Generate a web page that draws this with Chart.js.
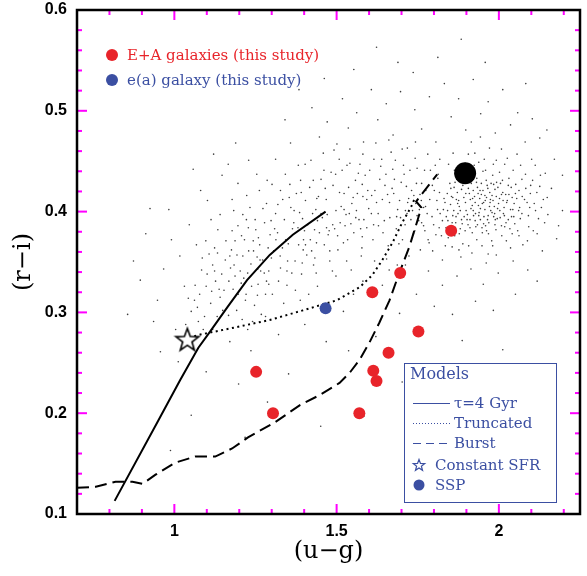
<!DOCTYPE html>
<html>
<head>
<meta charset="utf-8">
<script src="https://cdn.jsdelivr.net/npm/chart.js@4/dist/chart.umd.min.js"></script>
<style>
html,body{margin:0;padding:0;background:#fff;}
#wrap{width:587px;height:576px;position:relative;}
</style>
</head>
<body>
<div id="wrap"><canvas id="c" width="587" height="576"></canvas></div>
<script>
// ---------- data (u-g, r-i) ----------
const eaU = [1.853, 1.696, 1.610, 1.752, 1.660, 1.613, 1.623, 1.570, 1.252, 1.304];
const eaR = [0.381, 0.339, 0.320, 0.281, 0.260, 0.242, 0.232, 0.200, 0.241, 0.200];
const eaEmU = [1.466];
const eaEmR = [0.304];
const sspU = [1.896];
const sspR = [0.438];
const csfrU = [1.040];
const csfrR = [0.273];
const tauU = [0.816, 0.951, 1.018, 1.074, 1.110, 1.163, 1.224, 1.294, 1.365, 1.466];
const tauR = [0.113, 0.193, 0.233, 0.265, 0.281, 0.305, 0.332, 0.357, 0.377, 0.400];
const truncU = [1.045, 1.080, 1.193, 1.294, 1.396, 1.500, 1.571, 1.610, 1.641, 1.672, 1.702, 1.730, 1.742];
const truncR = [0.275, 0.278, 0.2855, 0.2925, 0.302, 0.312, 0.325, 0.337, 0.352, 0.369, 0.389, 0.405, 0.414];
const burstU = [0.700, 0.758, 0.819, 0.871, 0.902, 0.942, 1.003, 1.064, 1.126, 1.178, 1.227, 1.310, 1.387, 1.448, 1.509, 1.540, 1.571, 1.601, 1.632, 1.663, 1.693, 1.724, 1.748, 1.761, 1.745, 1.810];
const burstR = [0.126, 0.127, 0.132, 0.132, 0.130, 0.139, 0.151, 0.157, 0.157, 0.165, 0.176, 0.191, 0.208, 0.218, 0.230, 0.240, 0.253, 0.270, 0.290, 0.312, 0.339, 0.365, 0.390, 0.404, 0.410, 0.437];
// comparison galaxy sample (u-g, r-i), read approximately from the cloud
const sample = [
[1.912,0.412],[1.874,0.398],[1.951,0.421],[1.986,0.405],[1.843,0.391],[2.021,0.417],[1.905,0.387],[1.932,0.433],[1.967,0.396],[1.889,0.426],
[2.043,0.402],[1.858,0.414],[1.921,0.401],[1.976,0.428],[1.816,0.384],[1.943,0.392],[2.008,0.386],[1.897,0.409],[1.864,0.376],[1.958,0.411],
[2.062,0.421],[1.829,0.402],[1.915,0.428],[1.992,0.415],[1.881,0.383],[1.937,0.406],[2.031,0.433],[1.872,0.419],[1.948,0.384],[1.903,0.397],
[2.014,0.398],[1.851,0.407],[1.925,0.415],[1.969,0.389],[1.838,0.395],[2.087,0.409],[1.894,0.436],[1.981,0.436],[1.918,0.379],[1.957,0.402],
[1.865,0.429],[2.049,0.388],[1.809,0.411],[1.934,0.424],[1.999,0.408],[1.878,0.405],[1.946,0.417],[2.026,0.411],[1.885,0.392],[1.962,0.381],
[1.841,0.418],[1.909,0.418],[2.071,0.398],[1.927,0.391],[1.988,0.422],[1.856,0.389],[1.951,0.440],[2.005,0.428],[1.823,0.376],[1.899,0.401],
[1.939,0.399],[2.038,0.424],[1.868,0.395],[1.974,0.412],[1.913,0.434],[2.097,0.418],[1.848,0.381],[1.929,0.385],[2.016,0.404],[1.892,0.414],
[1.964,0.426],[1.834,0.409],[1.954,0.395],[2.055,0.413],[1.876,0.411],[1.918,0.406],[1.995,0.393],[1.861,0.401],[1.941,0.413],[2.029,0.392],
[1.906,0.423],[1.979,0.399],[1.852,0.423],[1.922,0.396],[2.012,0.419],[1.887,0.388],[1.971,0.405],[2.064,0.404],[1.896,0.381],[1.936,0.418],
[1.819,0.398],[1.984,0.427],[1.871,0.432],[1.949,0.408],[2.046,0.395],[1.911,0.392],[1.866,0.384],[2.002,0.413],[1.931,0.429],[1.959,0.386],
[1.782,0.372],[1.794,0.395],[1.801,0.421],[2.113,0.401],[2.126,0.425],[2.082,0.437],[1.955,0.452],[1.896,0.448],[2.018,0.447],[1.863,0.441],
[1.835,0.366],[1.907,0.366],[1.978,0.371],[2.041,0.378],[2.092,0.385],[1.812,0.433],[1.774,0.405],[1.768,0.386],[2.137,0.412],[2.104,0.431],
[1.926,0.458],[1.992,0.451],[1.845,0.447],[2.067,0.446],[1.877,0.362],[1.948,0.366],[2.023,0.371],[1.796,0.361],[2.151,0.397],[2.118,0.378],
[1.757,0.417],[1.748,0.396],[1.789,0.441],[2.056,0.457],[1.971,0.463],[1.915,0.469],[1.859,0.458],[1.826,0.352],[1.992,0.357],[2.074,0.367],
[2.162,0.423],[2.143,0.438],[1.737,0.378],[1.762,0.428],[2.008,0.462],[1.883,0.355],[1.961,0.349],[2.101,0.452],[1.818,0.452],[1.943,0.474],
[1.953,0.409],[2.017,0.396],[1.988,0.387],[2.041,0.414],[1.972,0.419],[2.066,0.393],[1.934,0.387],[2.003,0.401],[1.961,0.431],[2.079,0.412],
[1.921,0.421],[2.034,0.383],[1.997,0.424],[1.943,0.403],[2.052,0.427],[1.984,0.395],[2.024,0.409],[1.968,0.378],[2.091,0.396],[1.914,0.403],
[2.008,0.417],[1.946,0.428],[2.058,0.381],[1.979,0.416],[2.036,0.402],[1.927,0.409],[2.083,0.423],[1.965,0.392],[2.011,0.431],[1.991,0.382],
[1.938,0.396],[2.047,0.408],[1.975,0.401],[2.022,0.389],[1.957,0.416],[2.072,0.415],[1.902,0.392],[2.004,0.394],[1.982,0.411],[2.029,0.426],
[1.949,0.379],[2.061,0.401],[1.919,0.413],[1.993,0.429],[2.039,0.395],[1.966,0.423],[2.018,0.385],[1.942,0.421],[2.095,0.404],[1.987,0.398],
[1.873,0.408],[1.842,0.401],[1.885,0.422],[1.858,0.396],[1.831,0.413],[1.867,0.389],[1.893,0.395],[1.849,0.428],[1.878,0.378],[1.826,0.391],
[1.811,0.402],[1.854,0.415],[1.889,0.431],[1.837,0.384],[1.862,0.424],[1.898,0.418],[1.817,0.419],[1.844,0.374],[1.881,0.401],[1.869,0.412],
[1.799,0.387],[1.787,0.412],[1.806,0.377],[1.779,0.398],[1.795,0.426],[1.772,0.381],[1.813,0.437],[1.785,0.369],[1.761,0.411],[1.804,0.446],
[2.109,0.408],[2.122,0.393],[2.117,0.419],[2.131,0.404],[2.098,0.426],[2.141,0.389],[2.106,0.381],[2.128,0.436],[2.149,0.414],[2.112,0.446],
[1.959,0.441],[1.924,0.446],[2.002,0.439],[2.044,0.441],[1.881,0.444],[1.983,0.447],[2.026,0.453],[1.906,0.457],[2.071,0.432],[1.938,0.449],
[1.932,0.372],[1.981,0.366],[2.036,0.364],[1.889,0.368],[2.062,0.376],[1.856,0.365],[2.009,0.376],[1.917,0.359],[1.967,0.358],[2.088,0.371],
[1.953,0.388],[1.996,0.403],[2.013,0.411],[1.973,0.409],[1.928,0.398],[2.051,0.418],[1.911,0.384],[1.962,0.414],[2.031,0.417],[1.989,0.392],
[1.052,0.301],[1.078,0.318],[1.093,0.296],[1.064,0.327],[1.112,0.309],[1.127,0.331],[1.084,0.342],[1.141,0.315],[1.035,0.288],[1.118,0.347],
[1.098,0.326],[1.146,0.338],[1.071,0.305],[1.132,0.296],[1.157,0.352],[1.107,0.358],[1.043,0.314],[1.089,0.283],[1.153,0.322],[1.124,0.364],
[1.168,0.331],[1.184,0.347],[1.197,0.318],[1.211,0.356],[1.226,0.339],[1.243,0.371],[1.258,0.328],[1.272,0.352],[1.289,0.364],[1.176,0.362],
[1.192,0.302],[1.207,0.376],[1.219,0.312],[1.236,0.348],[1.251,0.382],[1.266,0.341],[1.281,0.318],[1.295,0.377],[1.173,0.344],[1.214,0.334],
[1.229,0.361],[1.247,0.307],[1.263,0.367],[1.278,0.389],[1.291,0.341],[1.187,0.371],[1.203,0.341],[1.238,0.326],[1.255,0.355],[1.284,0.331],
[1.196,0.386],[1.222,0.392],[1.268,0.298],[1.241,0.291],[1.299,0.354],[1.181,0.323],[1.259,0.374],[1.216,0.372],[1.273,0.403],[1.233,0.404],
[1.306,0.361],[1.318,0.379],[1.327,0.344],[1.339,0.392],[1.351,0.368],[1.364,0.383],[1.372,0.351],[1.386,0.399],[1.398,0.372],[1.411,0.387],
[1.423,0.361],[1.436,0.402],[1.447,0.379],[1.312,0.398],[1.334,0.412],[1.347,0.327],[1.359,0.404],[1.376,0.418],[1.392,0.338],[1.404,0.411],
[1.417,0.424],[1.429,0.347],[1.441,0.391],[1.321,0.331],[1.343,0.372],[1.368,0.389],[1.383,0.367],[1.395,0.393],[1.408,0.357],[1.432,0.382],
[1.309,0.383],[1.356,0.427],[1.389,0.431],[1.414,0.318],[1.444,0.415],[1.327,0.421],[1.373,0.322],[1.401,0.381],[1.426,0.398],[1.438,0.369],
[1.456,0.394],[1.468,0.412],[1.477,0.381],[1.489,0.426],[1.498,0.401],[1.511,0.389],[1.523,0.418],[1.534,0.372],[1.547,0.408],[1.558,0.431],
[1.569,0.392],[1.581,0.415],[1.593,0.384],[1.462,0.367],[1.483,0.439],[1.504,0.362],[1.517,0.441],[1.529,0.397],[1.541,0.448],[1.553,0.379],
[1.564,0.418],[1.576,0.356],[1.588,0.436],[1.599,0.403],[1.471,0.397],[1.494,0.383],[1.514,0.405],[1.537,0.424],[1.561,0.401],[1.584,0.392],
[1.452,0.432],[1.479,0.351],[1.508,0.452],[1.545,0.342],[1.572,0.447],[1.596,0.421],[1.465,0.423],[1.526,0.386],[1.551,0.414],[1.579,0.375],
[1.607,0.398],[1.618,0.421],[1.629,0.386],[1.641,0.412],[1.652,0.437],[1.664,0.394],[1.676,0.418],[1.688,0.402],[1.699,0.429],[1.711,0.387],
[1.722,0.413],[1.734,0.401],[1.746,0.428],[1.612,0.372],[1.636,0.445],[1.659,0.366],[1.681,0.451],[1.703,0.372],[1.726,0.441],[1.741,0.381],
[1.623,0.409],[1.647,0.391],[1.671,0.423],[1.694,0.411],[1.717,0.398],[1.738,0.416],[1.755,0.402],[1.633,0.432],[1.657,0.417],[1.684,0.383],
[1.706,0.446],[1.729,0.392],[1.615,0.452],[1.668,0.459],[1.692,0.368],[1.715,0.425],[1.748,0.443],[1.762,0.389],[1.775,0.421],[1.768,0.404],
[1.062,0.312],[1.101,0.338],[1.138,0.323],[1.171,0.356],[1.206,0.329],[1.244,0.361],[1.277,0.339],[1.313,0.372],[1.349,0.351],[1.381,0.384],
[1.419,0.372],[1.452,0.398],[1.488,0.387],[1.523,0.402],[1.559,0.394],[1.593,0.412],[1.628,0.398],[1.663,0.409],[1.697,0.394],[1.731,0.421],
[1.086,0.354],[1.124,0.341],[1.159,0.371],[1.193,0.357],[1.228,0.384],[1.264,0.352],[1.298,0.391],[1.333,0.364],[1.369,0.401],[1.404,0.367],
[1.439,0.413],[1.474,0.377],[1.509,0.419],[1.544,0.388],[1.579,0.427],[1.614,0.387],[1.649,0.426],[1.685,0.395],[1.719,0.409],[1.753,0.391],
[1.074,0.291],[1.115,0.321],[1.149,0.302],[1.187,0.336],[1.221,0.318],[1.257,0.343],[1.291,0.328],[1.326,0.356],[1.362,0.339],[1.397,0.362],
[1.433,0.354],[1.469,0.384],[1.503,0.376],[1.539,0.398],[1.574,0.383],[1.608,0.416],[1.643,0.379],[1.678,0.432],[1.712,0.401],[1.744,0.408],
[1.097,0.371],[1.133,0.359],[1.178,0.381],[1.211,0.397],[1.249,0.392],[1.284,0.408],[1.319,0.407],[1.354,0.414],[1.391,0.419],[1.428,0.431],
[1.461,0.441],[1.497,0.437],[1.532,0.446],[1.567,0.438],[1.602,0.441],[1.639,0.452],[1.673,0.442],[1.708,0.437],[1.742,0.453],[1.771,0.441],
[1.141,0.397],[1.183,0.401],[1.223,0.416],[1.262,0.421],[1.301,0.427],[1.342,0.437],[1.382,0.446],[1.421,0.451],[1.459,0.458],[1.501,0.467],
[1.541,0.462],[1.581,0.457],[1.621,0.468],[1.661,0.471],[1.702,0.462],[1.743,0.469],[1.781,0.457],[1.226,0.283],[1.281,0.296],[1.337,0.309],
[1.388,0.312],[1.441,0.326],[1.487,0.341],[1.531,0.351],[1.578,0.364],[1.617,0.351],[1.654,0.353],[1.687,0.347],[1.723,0.356],[1.758,0.362],
[1.118,0.283],[1.167,0.297],[1.209,0.293],[1.256,0.317],[1.302,0.318],[1.347,0.341],[1.394,0.349],[1.437,0.339],[1.479,0.361],[1.521,0.369],
[1.312,0.452],[1.358,0.468],[1.403,0.447],[1.447,0.474],[1.492,0.461],[1.536,0.483],[1.583,0.469],[1.627,0.491],[1.674,0.476],[1.718,0.463],
[1.762,0.482],[1.806,0.469],[1.853,0.494],[1.898,0.481],[1.944,0.497],[1.989,0.478],[2.036,0.486],[2.081,0.469],[2.126,0.473],[2.171,0.452],
[1.286,0.431],[1.341,0.491],[1.424,0.503],[1.471,0.489],[1.518,0.512],[1.562,0.498],[1.607,0.521],[1.653,0.507],[1.697,0.519],[1.741,0.501],
[1.786,0.514],[1.832,0.527],[1.876,0.512],[1.921,0.531],[1.967,0.509],[2.012,0.521],[2.058,0.498],[2.103,0.492],[2.148,0.481],[2.196,0.436],
[1.384,0.521],[1.553,0.541],[1.689,0.548],[1.812,0.553],[1.958,0.548],[2.083,0.527],[1.462,0.532],[1.736,0.538],[1.884,0.571],[1.623,0.563],
[0.874,0.351],[0.912,0.378],[0.948,0.312],[0.983,0.402],[1.017,0.356],[1.046,0.387],[1.081,0.421],[1.113,0.392],[1.147,0.436],[1.178,0.412],
[0.936,0.291],[0.967,0.343],[1.004,0.283],[1.031,0.326],[1.068,0.367],[1.102,0.411],[1.134,0.382],[1.166,0.447],[1.196,0.428],[1.229,0.451],
[0.895,0.332],[0.925,0.403],[0.991,0.372],[1.058,0.442],[1.121,0.457],[1.189,0.468],[1.254,0.437],[0.957,0.261],[1.012,0.251],[0.856,0.298],
[1.783,0.341],[1.826,0.327],[1.871,0.336],[1.914,0.343],[1.952,0.328],[1.998,0.339],[2.044,0.351],[2.089,0.342],[2.134,0.361],[2.178,0.373],
[1.801,0.306],[1.857,0.298],[1.928,0.311],[1.983,0.302],[2.051,0.318],[2.118,0.331],[1.746,0.318],[1.712,0.347],[1.694,0.299],[1.662,0.342],
[1.641,0.327],[1.581,0.331],[1.552,0.318],[1.498,0.336],[1.521,0.301],[1.887,0.272],[2.012,0.263],[1.962,0.248],[2.196,0.401],[2.184,0.386],
[1.171,0.271],[1.236,0.262],[1.321,0.278],[1.402,0.288],[1.468,0.271],[1.098,0.241],[1.198,0.229],[1.352,0.239],[1.537,0.262],[1.621,0.276],
[1.052,0.198],[1.287,0.211],[1.451,0.187],[1.702,0.231],[1.853,0.218],[0.988,0.163],[1.218,0.176],[1.584,0.197],[1.792,0.172],[1.926,0.152]
];
// tick values
const xMajorTicks = [1, 1.5, 2];
const xMinorTicks = [0.8, 0.9, 1.1, 1.2, 1.3, 1.4, 1.6, 1.7, 1.8, 1.9, 2.1, 2.2];
const yMajorTicks = [0.1, 0.2, 0.3, 0.4, 0.5, 0.6];
const yMinorTicks = [0.12,0.14,0.16,0.18,0.22,0.24,0.26,0.28,0.32,0.34,0.36,0.38,0.42,0.44,0.46,0.48,0.52,0.54,0.56,0.58];
const xTickLabels = ['1', '1.5', '2'];
const yTickLabels = ['0.1', '0.2', '0.3', '0.4', '0.5', '0.6'];

// ---------- styling ----------
const RED = '#e8242a';
const BLUE = '#3b4fa2';
const SERIF = '"DejaVu Serif", serif';

const pts = (xs, ys) => xs.map((v, i) => ({x: v, y: ys[i]}));

function starPath(ctx, cx, cy, R, r) {
  ctx.beginPath();
  for (let i = 0; i < 10; i++) {
    const a = -Math.PI / 2 + i * Math.PI / 5;
    const rad = i % 2 === 0 ? R : r;
    const px = cx + rad * Math.cos(a), py = cy + rad * Math.sin(a);
    if (i === 0) ctx.moveTo(px, py); else ctx.lineTo(px, py);
  }
  ctx.closePath();
}
const starImg = document.createElement('canvas');
starImg.width = 28; starImg.height = 28;
(function(){
  const c = starImg.getContext('2d');
  starPath(c, 14, 14.8, 12, 4.9);
  c.fillStyle = '#fff'; c.fill();
  c.lineWidth = 1.6; c.strokeStyle = '#000'; c.lineJoin = 'miter'; c.stroke();
})();

function drawTicks(chart) {
  const ctx = chart.ctx;
  const xs = chart.scales.x, ys = chart.scales.y;
  const ca = chart.chartArea;
  ctx.save();
  ctx.setTransform(1, 0, 0, 1, 0, 0);
  ctx.globalAlpha = 1;
  ctx.globalCompositeOperation = 'source-over';
  ctx.setLineDash([]);
  ctx.fillStyle = '#ff00ff';
  const drawX = (vals, len) => {
    for (const v of vals) {
      const px = xs.getPixelForValue(v);
      ctx.fillRect(px - 1, ca.bottom - len, 2, len);
      ctx.fillRect(px - 1, ca.top, 2, len);
    }
  };
  const drawY = (vals, len) => {
    for (const v of vals) {
      const py = ys.getPixelForValue(v);
      ctx.fillRect(ca.left, py - 1, len, 2);
      ctx.fillRect(ca.right - len, py - 1, len, 2);
    }
  };
  drawX(xMajorTicks, 10);
  drawX(xMinorTicks, 5);
  drawY(yMajorTicks, 10);
  drawY(yMinorTicks, 5);
  ctx.strokeStyle = '#000';
  ctx.lineWidth = 2.5;
  ctx.strokeRect(ca.left, ca.top, ca.right - ca.left, ca.bottom - ca.top);
  ctx.restore();
}

const framePlugin = {
  id: 'frame',
  afterDraw(chart) {
    const ctx = chart.ctx;
    ctx.save();
    ctx.font = '15px ' + SERIF;
    ctx.textBaseline = 'middle';
    ctx.textAlign = 'left';
    ctx.fillStyle = RED;
    ctx.beginPath(); ctx.arc(112, 55, 6, 0, Math.PI * 2); ctx.fill();
    ctx.fillText('E+A galaxies (this study)', 127, 56);
    ctx.fillStyle = BLUE;
    ctx.beginPath(); ctx.arc(112, 80, 6, 0, Math.PI * 2); ctx.fill();
    ctx.fillText('e(a) galaxy (this study)', 127, 81);
    ctx.fillStyle = '#fff';
    ctx.fillRect(404, 363, 153, 140);
    ctx.strokeStyle = BLUE; ctx.lineWidth = 1;
    ctx.strokeRect(404.5, 363.5, 152, 139);
    ctx.fillStyle = BLUE;
    ctx.font = '16px ' + SERIF;
    ctx.fillText('Models', 410, 375);
    ctx.font = '15px ' + SERIF;
    ctx.fillRect(413, 403, 37, 1);
    for (let xx = 413; xx < 450; xx += 3) ctx.fillRect(xx, 423, 1, 1);
    for (let xx = 413; xx < 450; xx += 13) ctx.fillRect(xx, 443, 8, 1);
    ctx.fillText('\u03c4=4 Gyr', 454, 404);
    ctx.fillText('Truncated', 454, 424);
    ctx.fillText('Burst', 454, 444);
    starPath(ctx, 419, 465.5, 6, 2.5);
    ctx.lineWidth = 1.2; ctx.stroke();
    ctx.fillText('Constant SFR', 435, 466);
    ctx.beginPath(); ctx.arc(419, 485, 5.5, 0, Math.PI * 2); ctx.fill();
    ctx.fillText('SSP', 435, 486);
    ctx.restore();
    drawTicks(chart);
  }
};

new Chart(document.getElementById('c'), {
  type: 'scatter',
  data: {
    datasets: [
      {label: 'SDSS galaxies', data: sample.map(p => ({x: p[0], y: p[1]})), pointRadius: 0.8, pointBackgroundColor: 'rgba(40,40,40,0.9)', pointBorderWidth: 0, order: 10},
      {label: '\u03c4=4 Gyr', data: pts(tauU, tauR), showLine: true, borderColor: '#000', borderWidth: 2, pointRadius: 0, fill: false, order: 6},
      {label: 'Truncated', data: pts(truncU, truncR), showLine: true, borderColor: '#000', borderWidth: 2, borderDash: [2, 3.5], pointRadius: 0, fill: false, order: 6},
      {label: 'Burst', data: pts(burstU, burstR), showLine: true, borderColor: '#000', borderWidth: 2, borderDash: [12, 6], pointRadius: 0, fill: false, order: 6},
      {label: 'Constant SFR', data: pts(csfrU, csfrR), pointStyle: starImg, pointRadius: 12, order: 3},
      {label: 'SSP', data: pts(sspU, sspR), pointRadius: 11, pointBackgroundColor: '#000', pointBorderWidth: 0, order: 3},
      {label: 'E+A galaxies (this study)', data: pts(eaU, eaR), pointRadius: 6, pointBackgroundColor: RED, pointBorderWidth: 0, order: 1},
      {label: 'e(a) galaxy (this study)', data: pts(eaEmU, eaEmR), pointRadius: 6, pointBackgroundColor: BLUE, pointBorderWidth: 0, order: 1}
    ]
  },
  options: {
    responsive: false,
    animation: false,
    events: [],
    layout: {autoPadding: false, padding: {left: 0, right: 7, top: 10, bottom: 0}},
    plugins: {legend: {display: false}, tooltip: {enabled: false}},
    scales: {
      x: {
        type: 'linear', min: 0.7, max: 2.25,
        grid: {display: false, drawTicks: false},
        border: {display: false},
        afterBuildTicks: s => { s.ticks = xMajorTicks.map(v => ({value: v})); },
        afterFit: s => { s.height = 62; s.paddingLeft = 0; s.paddingRight = 0; },
        ticks: {padding: 8, color: '#000', font: {family: '"Liberation Sans", Arial, sans-serif', size: 16, weight: 'bold'},
                maxRotation: 0, autoSkip: false,
                callback: (v) => xTickLabels[xMajorTicks.indexOf(v)]},
        title: {display: true, text: '(u\u2212g)', color: '#000', font: {family: SERIF, size: 24}, padding: {top: 0, bottom: 10}}
      },
      y: {
        type: 'linear', min: 0.1, max: 0.6,
        grid: {display: false, drawTicks: false},
        border: {display: false},
        afterBuildTicks: s => { s.ticks = yMajorTicks.map(v => ({value: v})); },
        afterFit: s => { s.width = 77; s.paddingTop = 0; s.paddingBottom = 0; },
        ticks: {padding: 10, color: '#000', font: {family: '"Liberation Sans", Arial, sans-serif', size: 16, weight: 'bold'},
                autoSkip: false,
                callback: (v) => yTickLabels[yMajorTicks.indexOf(v)]},
        title: {display: true, text: '(r\u2212i)', color: '#000', font: {family: SERIF, size: 24}, padding: {top: 9, bottom: 0}}
      }
    }
  },
  plugins: [framePlugin]
});
</script>
</body>
</html>
